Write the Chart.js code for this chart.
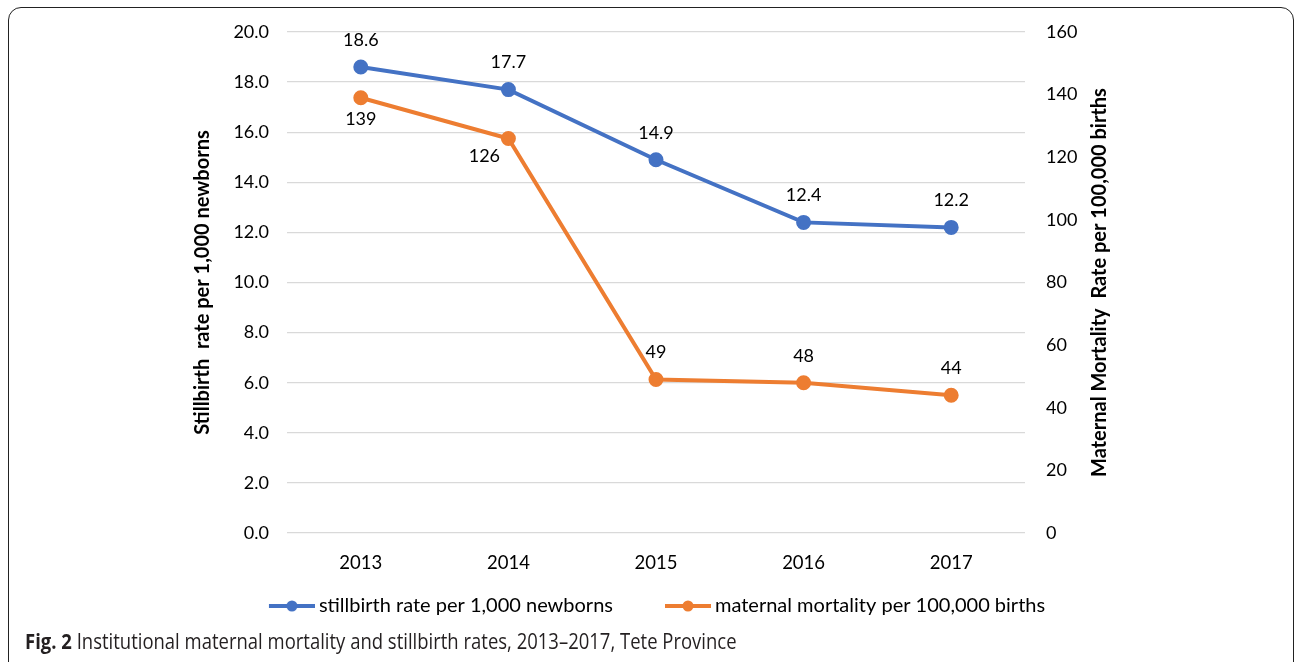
<!DOCTYPE html>
<html>
<head>
<meta charset="utf-8">
<script src="https://cdn.jsdelivr.net/npm/chart.js@4.4.1/dist/chart.umd.min.js"></script>
<style>
  html, body { margin: 0; padding: 0; background: #fff; }
  body { width: 1295px; height: 662px; position: relative; overflow: hidden; }
  .card {
    position: absolute; left: 8px; top: 7px; width: 1286px; height: 680px;
    border: 1.6px solid #222; border-radius: 13px; box-sizing: border-box;
  }
  #wrap { position: absolute; left: 0; top: 0; width: 1295px; height: 630px; }
  .caption {
    position: absolute; left: 25px; top: 627px;
    font-family: "Open Sans", sans-serif;
    font-size: 21px; color: #231f20; white-space: nowrap;
    transform: scaleX(0.88); transform-origin: 0 0;
  }
</style>
</head>
<body>
<div class="card"></div>
<div id="wrap"><canvas id="chart"></canvas></div>
<div class="caption"><b>Fig. 2</b> Institutional maternal mortality and stillbirth rates, 2013–2017, Tete Province</div>
<script>
const years = ["2013", "2014", "2015", "2016", "2017"];
const stillbirthRate = [18.6, 17.7, 14.9, 12.4, 12.2];
const maternalMortality = [139, 126, 49, 48, 44];
// where each value label sits relative to its point
const stillbirthLabelPos = ["above", "above", "above", "above", "above"];
const maternalLabelPos = ["below", "left", "above", "above", "above"];

const BLUE = "#4472C4";
const ORANGE = "#ED7D31";
const FONT = "Lato, 'Open Sans', sans-serif";
const RIGHT_TITLE = "Maternal Mortality  Rate per 100,000 births";

// line-with-dot swatch for the legend; the transparent left part
// spaces the two legend entries apart
function swatch(color) {
  const c = document.createElement("canvas");
  c.width = 92; c.height = 12;
  const g = c.getContext("2d");
  g.strokeStyle = color; g.lineWidth = 4;
  g.beginPath(); g.moveTo(46, 6); g.lineTo(92, 6); g.stroke();
  g.fillStyle = color;
  g.beginPath(); g.arc(69, 6, 5.5, 0, Math.PI * 2); g.fill();
  return c;
}

const valueLabels = {
  id: "valueLabels",
  afterDatasetsDraw(chart) {
    const ctx = chart.ctx;
    ctx.save();
    ctx.font = "18px " + FONT;
    ctx.fillStyle = "#000";
    ctx.textAlign = "center";
    ctx.textBaseline = "middle";
    chart.data.datasets.forEach((ds, i) => {
      const meta = chart.getDatasetMeta(i);
      meta.data.forEach((pt, j) => {
        const pos = ds.labelPos[j];
        let x = pt.x, y = pt.y;
        if (pos === "above") y -= 27;
        else if (pos === "below") y += 21;
        else if (pos === "left") { x -= 24; y += 18; }
        ctx.fillText(ds.valueText[j], x, y);
      });
    });
    ctx.restore();
  }
};

// right axis title reads bottom-to-top like the left one
const rightTitle = {
  id: "rightTitle",
  afterDraw(chart) {
    const area = chart.chartArea;
    const ctx = chart.ctx;
    ctx.save();
    ctx.translate(area.right + 75, (area.top + area.bottom) / 2);
    ctx.rotate(-Math.PI / 2);
    ctx.font = "bold 20px " + FONT;
    ctx.fillStyle = "#000";
    ctx.textAlign = "center";
    ctx.textBaseline = "middle";
    ctx.fillText(RIGHT_TITLE, 0, 0);
    ctx.restore();
  }
};

new Chart(document.getElementById("chart"), {
  type: "line",
  data: {
    labels: years,
    datasets: [{
      label: "stillbirth rate per 1,000 newborns",
      data: stillbirthRate,
      valueText: stillbirthRate.map(v => v.toFixed(1)),
      labelPos: stillbirthLabelPos,
      borderColor: BLUE,
      backgroundColor: BLUE,
      borderWidth: 4,
      pointRadius: 5.5,
      pointHoverRadius: 5.5,
      yAxisID: "y",
      legendSwatch: swatch(BLUE)
    }, {
      label: "maternal mortality per 100,000 births",
      data: maternalMortality,
      valueText: maternalMortality.map(v => String(v)),
      labelPos: maternalLabelPos,
      borderColor: ORANGE,
      backgroundColor: ORANGE,
      borderWidth: 4,
      pointRadius: 5.5,
      pointHoverRadius: 5.5,
      yAxisID: "y1",
      legendSwatch: swatch(ORANGE)
    }]
  },
  options: {
    responsive: true,
    maintainAspectRatio: false,
    animation: false,
    layout: { padding: { left: 170, right: 191, top: 32, bottom: 4 } },
    plugins: {
      tooltip: { enabled: false },
      legend: {
        position: "bottom",
        labels: {
          color: "#000",
          font: { family: FONT, size: 20 },
          usePointStyle: true,
          pointStyleWidth: 80,
          padding: 12,
          generateLabels(chart) {
            return chart.data.datasets.map((ds, i) => ({
              text: ds.label,
              pointStyle: ds.legendSwatch,
              fillStyle: ds.borderColor,
              strokeStyle: ds.borderColor,
              lineWidth: 0,
              fontColor: "#000",
              datasetIndex: i,
              hidden: false
            }));
          }
        }
      }
    },
    scales: {
      x: {
        offset: true,
        grid: { display: false },
        border: { display: false },
        ticks: { color: "#000", font: { family: FONT, size: 18.5 }, padding: 11 },
        afterFit(s) { s.height = 51; }
      },
      y: {
        position: "left",
        min: 0, max: 20,
        ticks: {
          stepSize: 2, color: "#000", padding: 18,
          font: { family: FONT, size: 18 },
          callback: v => v.toFixed(1)
        },
        grid: { color: "#D9D9D9", lineWidth: 1.3, drawTicks: false },
        border: { display: false },
        title: {
          display: true,
          text: "Stillbirth  rate per 1,000 newborns",
          color: "#000",
          font: { family: FONT, size: 20, weight: "bold" },
          padding: { top: 21, bottom: 0 }
        },
        afterFit(s) { s.width = 117; }
      },
      y1: {
        position: "right",
        min: 0, max: 160,
        ticks: {
          stepSize: 20, color: "#000", padding: 21,
          font: { family: FONT, size: 18 }
        },
        grid: { drawOnChartArea: false, drawTicks: false },
        border: { display: false },
        afterFit(s) { s.width = 79; }
      }
    }
  },
  plugins: [valueLabels, rightTitle]
});
</script>
</body>
</html>
